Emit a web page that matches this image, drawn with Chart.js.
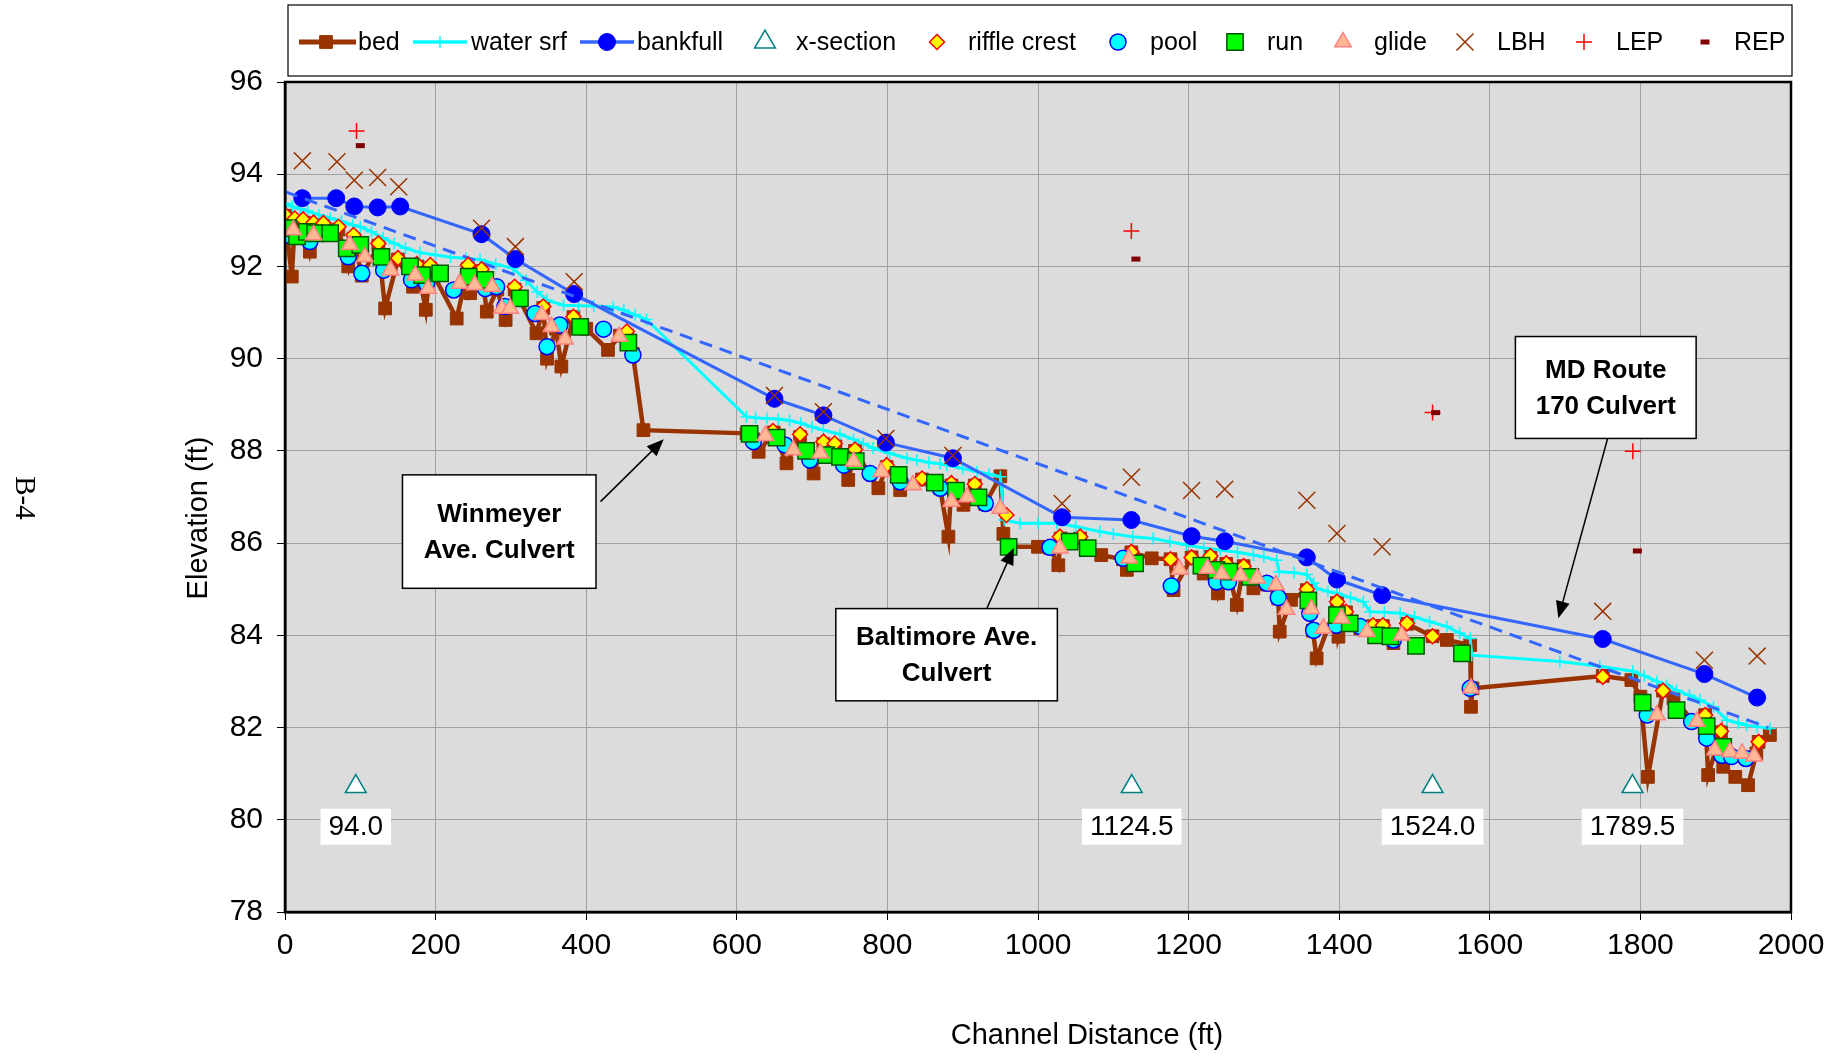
<!DOCTYPE html>
<html>
<head>
<meta charset="utf-8">
<script src="https://cdn.jsdelivr.net/npm/chart.js@4.4.0/dist/chart.umd.min.js"></script>
<style>
  html, body { margin: 0; padding: 0; background: #fff; }
  #wrap { width: 1838px; height: 1062px; }
</style>
</head>
<body>
<div id="wrap"><canvas id="profile" width="1838" height="1062"></canvas></div>
<script>
// survey points: [channel distance ft, elevation ft]
const bed = [
  [0, 93.1], [9, 91.78], [13, 92.95], [25, 92.95], [33, 92.32], [40, 92.85], [52, 92.9], [60, 92.7],
  [71, 92.8], [84, 92.0], [91, 92.6], [102, 91.8], [124, 92.45], [133, 91.09], [150, 92.15], [170, 91.56],
  [176, 92.0], [187, 91.06], [193, 91.95], [228, 90.87], [243, 91.95], [246, 91.42], [261, 91.9],
  [268, 91.02], [282, 91.5], [293, 90.84], [305, 91.5], [334, 90.55], [343, 91.1], [348, 90.0],
  [360, 90.65], [367, 89.83], [383, 90.9], [400, 90.65], [429, 90.19], [445, 90.5], [454, 90.5],
  [462, 90.1], [476, 88.45], [613, 88.38], [622, 88.25], [629, 87.98], [649, 88.4], [666, 87.73],
  [684, 88.3], [702, 87.51], [715, 88.15], [731, 88.1], [748, 87.37], [757, 88.0], [788, 87.19],
  [799, 87.65], [817, 87.15], [846, 87.38], [870, 87.2], [881, 86.14], [885, 87.25], [901, 86.83],
  [916, 87.25], [930, 86.85], [950, 87.45], [954, 86.2], [963, 85.92], [1000, 85.92], [1016, 85.9],
  [1027, 85.52], [1030, 86.1], [1056, 86.1], [1084, 85.74], [1113, 85.65], [1118, 85.42], [1124, 85.8],
  [1151, 85.67], [1176, 85.65], [1180, 84.98], [1204, 85.69], [1220, 85.34], [1229, 85.7], [1239, 84.91],
  [1250, 85.55], [1264, 84.66], [1273, 85.5], [1286, 85.02], [1304, 85.1], [1319, 84.8], [1321, 84.08],
  [1336, 84.77], [1357, 84.98], [1365, 84.1], [1370, 83.5], [1397, 84.7], [1399, 83.97], [1409, 84.5],
  [1428, 84.15], [1445, 84.2], [1458, 84.2], [1472, 83.83], [1490, 84.25], [1524, 83.98], [1543, 83.9],
  [1574, 83.79], [1575, 82.45], [1577, 82.85], [1750, 83.12], [1788, 83.03], [1800, 82.67],
  [1810, 80.93], [1830, 82.8], [1844, 82.63], [1870, 82.13], [1886, 82.27], [1890, 80.97],
  [1907, 81.9], [1910, 81.15], [1926, 80.93], [1943, 80.75], [1954, 81.44], [1957, 81.69], [1972, 81.84]
];
const waterSrf = [
  [0, 93.37], [10, 93.3], [20, 93.25], [30, 93.2], [45, 93.12], [60, 93.05], [75, 92.98], [90, 92.9],
  [100, 92.86], [115, 92.75], [130, 92.62], [145, 92.5], [160, 92.4], [179, 92.3], [200, 92.25],
  [220, 92.2], [240, 92.18], [259, 92.15], [280, 92.05], [303, 91.96], [320, 91.7], [335, 91.45],
  [348, 91.27], [370, 91.16], [390, 91.15], [410, 91.14], [436, 91.12], [450, 91.05], [465, 90.95],
  [480, 90.85], [613, 88.74], [625, 88.72], [640, 88.7], [655, 88.69], [670, 88.66], [685, 88.6],
  [700, 88.52], [715, 88.45], [737, 88.36], [755, 88.25], [768, 88.16], [781, 88.06], [803, 87.95],
  [826, 87.84], [839, 87.8], [855, 87.75], [870, 87.72], [879, 87.69], [900, 87.62], [919, 87.55],
  [935, 87.5], [950, 87.44], [955, 86.5], [976, 86.43], [1000, 86.43], [1025, 86.43], [1050, 86.36],
  [1082, 86.25], [1100, 86.2], [1126, 86.14], [1153, 86.1], [1175, 86.03], [1197, 85.96], [1220, 85.9],
  [1242, 85.85], [1265, 85.8], [1286, 85.74], [1300, 85.7], [1317, 85.63], [1320, 85.38], [1340, 85.36],
  [1357, 85.32], [1366, 85.13], [1370, 85.02], [1385, 84.95], [1397, 84.91], [1415, 84.82], [1432, 84.73],
  [1441, 84.51], [1460, 84.5], [1481, 84.48], [1500, 84.4], [1520, 84.3], [1543, 84.19], [1560, 84.05],
  [1574, 83.93], [1576, 83.57], [1693, 83.43], [1746, 83.33], [1790, 83.22], [1805, 83.12], [1822, 83.0],
  [1835, 82.92], [1848, 82.81], [1865, 82.7], [1879, 82.6], [1897, 82.45], [1915, 82.16], [1930, 82.1],
  [1941, 82.05], [1955, 82.02], [1972, 81.98]
];
const bankfull = [
  [23, 93.48], [68, 93.48], [92, 93.3], [123, 93.28], [153, 93.3], [261, 92.7], [306, 92.16], [384, 91.4],
  [650, 89.13], [715, 88.77], [798, 88.18], [887, 87.84], [1032, 86.56], [1124, 86.5], [1204, 86.15],
  [1248, 86.04], [1357, 85.69], [1397, 85.21], [1457, 84.87], [1750, 83.92], [1885, 83.16], [1955, 82.65]
];
const bankfullTrend = [[0, 93.62], [1970, 82.0]];
const xsection = [[94.0, 80.72], [1124.5, 80.72], [1524.0, 80.72], [1789.5, 80.72]];
const xsectionLabels = ['94.0', '1124.5', '1524.0', '1789.5'];
const riffleCrest = [
  [0, 93.12], [13, 93.04], [24, 93.02], [38, 92.95], [51, 92.94], [71, 92.86], [91, 92.68], [124, 92.5],
  [150, 92.18], [175, 92.05], [193, 92.03], [243, 92.03], [261, 91.94], [305, 91.56], [343, 91.13],
  [383, 90.91], [454, 90.59], [648, 88.43], [684, 88.36], [715, 88.2], [730, 88.16], [757, 88.03],
  [799, 87.69], [846, 87.4], [885, 87.3], [916, 87.28], [958, 86.61], [1029, 86.14], [1056, 86.14],
  [1124, 85.81], [1176, 85.65], [1204, 85.69], [1229, 85.72], [1250, 85.56], [1273, 85.5], [1357, 85.0],
  [1397, 84.73], [1409, 84.51], [1445, 84.22], [1458, 84.22], [1490, 84.26], [1524, 83.98], [1750, 83.1],
  [1830, 82.8], [1886, 82.27], [1907, 81.92], [1957, 81.69]
];
const pool = [
  [2, 92.68], [33, 92.54], [84, 92.21], [102, 91.85], [131, 91.92], [168, 91.71], [188, 91.63],
  [224, 91.49], [266, 91.52], [281, 91.56], [292, 91.13], [332, 90.98], [348, 90.26], [365, 90.73],
  [423, 90.64], [462, 90.08], [622, 88.2], [664, 88.13], [697, 87.8], [742, 87.69], [777, 87.51],
  [817, 87.33], [870, 87.19], [930, 86.86], [1016, 85.91], [1113, 85.67], [1177, 85.07], [1237, 85.16],
  [1253, 85.16], [1304, 85.13], [1319, 84.82], [1361, 84.48], [1366, 84.11], [1396, 84.22], [1428, 84.19],
  [1472, 83.9], [1574, 82.85], [1809, 82.27], [1868, 82.13], [1888, 81.77], [1908, 81.4], [1921, 81.37],
  [1940, 81.33]
];
const run = [
  [4, 92.83], [16, 92.65], [29, 92.75], [40, 92.72], [60, 92.72], [82, 92.39], [100, 92.47], [128, 92.21],
  [166, 92.0], [182, 91.81], [206, 91.85], [244, 91.78], [266, 91.71], [312, 91.31], [392, 90.69],
  [456, 90.35], [617, 88.37], [653, 88.29], [692, 88.0], [719, 87.91], [737, 87.87], [758, 87.78],
  [815, 87.48], [863, 87.31], [891, 87.14], [921, 86.99], [961, 85.92], [1042, 86.03], [1066, 85.89],
  [1129, 85.56], [1217, 85.51], [1237, 85.42], [1254, 85.38], [1282, 85.27], [1359, 84.76], [1397, 84.44],
  [1414, 84.26], [1449, 84.0], [1468, 83.98], [1502, 83.77], [1563, 83.61], [1803, 82.54], [1848, 82.38],
  [1888, 82.03], [1910, 81.58]
];
const glide = [
  [11, 92.79], [38, 92.68], [86, 92.47], [106, 92.21], [140, 91.92], [173, 91.81], [190, 91.52],
  [232, 91.63], [252, 91.6], [275, 91.56], [288, 91.09], [299, 91.09], [341, 90.95], [354, 90.69],
  [372, 90.42], [444, 90.48], [638, 88.33], [675, 88.02], [711, 87.95], [755, 87.77], [792, 87.55],
  [834, 87.26], [885, 86.9], [906, 87.0], [950, 86.75], [1029, 85.89], [1121, 85.67], [1188, 85.43],
  [1225, 85.45], [1244, 85.33], [1269, 85.29], [1291, 85.24], [1316, 85.09], [1330, 84.56], [1363, 84.57],
  [1379, 84.15], [1403, 84.37], [1437, 84.08], [1483, 84.0], [1575, 82.85], [1822, 82.27], [1875, 82.13],
  [1899, 81.51], [1919, 81.47], [1935, 81.44], [1951, 81.38]
];
const lbh = [
  [23, 94.29], [69, 94.27], [92, 93.87], [123, 93.93], [151, 93.73], [261, 92.83], [306, 92.43],
  [384, 91.67], [650, 89.2], [715, 88.85], [798, 88.27], [887, 87.9], [1032, 86.86], [1124, 87.43],
  [1204, 87.14], [1248, 87.17], [1357, 86.93], [1397, 86.21], [1457, 85.92], [1750, 84.52],
  [1885, 83.46], [1955, 83.55]
];
const lep = [[95, 94.94], [1124, 92.77], [1524, 88.83], [1790, 87.99]];
const rep = [[100, 94.62], [1130, 92.16], [1528, 88.83], [1796, 85.83]];

const xTicks = { min: 0, max: 2000, step: 200 };
const yTicks = { min: 78, max: 96, step: 2 };

// culvert call-outs (box corners and arrow tail->tip, in chart units)
const notes = [
  { lines: ['Winmeyer', 'Ave. Culvert'], box: [156, 87.48, 413, 85.02], arrow: [419, 86.9, 503, 88.25] },
  { lines: ['Baltimore Ave.', 'Culvert'], box: [731.5, 84.58, 1025.7, 82.58], arrow: [923, 84.25, 968, 85.9] },
  { lines: ['MD Route', '170 Culvert'], box: [1634, 90.48, 1874, 88.27], arrow: [1757, 88.3, 1691, 84.37] }
];
const xsecLabelElev = 79.85;

const FONT = "'Liberation Sans', Arial, Helvetica, sans-serif";
const pts = arr => arr.map(([x, y]) => ({ x, y }));

const datasets = [
  { label: 'bed', data: pts(bed), showLine: true, borderColor: '#993300', borderWidth: 4.5,
    pointStyle: 'rect', pointRadius: 9, pointBackgroundColor: '#993300', pointBorderColor: '#993300', pointBorderWidth: 1 },
  { label: 'water srf', data: pts(waterSrf), showLine: true, borderColor: '#00ffff', borderWidth: 3,
    pointStyle: 'cross', pointRadius: 6, pointBackgroundColor: '#00ffff', pointBorderColor: '#00ffff', pointBorderWidth: 1.5 },
  { label: 'bankfull', data: pts(bankfull), showLine: true, borderColor: '#3366ff', borderWidth: 3,
    pointStyle: 'circle', pointRadius: 8.5, pointBackgroundColor: '#0000ff', pointBorderColor: '#0000ff', pointBorderWidth: 1 },
  { label: 'trend', data: pts(bankfullTrend), showLine: true, borderColor: '#3366ff', borderWidth: 3,
    borderDash: [13, 8], pointRadius: 0 },
  { label: 'x-section', data: pts(xsection), pointStyle: 'triangle', pointRadius: 12,
    pointBackgroundColor: '#ffffff', pointBorderColor: '#008080', pointBorderWidth: 1.5 },
  { label: 'riffle crest', data: pts(riffleCrest), pointStyle: 'rectRot', pointRadius: 7.5,
    pointBackgroundColor: '#ffff00', pointBorderColor: '#ff0000', pointBorderWidth: 1.5 },
  { label: 'pool', data: pts(pool), pointStyle: 'circle', pointRadius: 8,
    pointBackgroundColor: '#00ffff', pointBorderColor: '#0000ff', pointBorderWidth: 1.5 },
  { label: 'run', data: pts(run), pointStyle: 'rect', pointRadius: 11.5,
    pointBackgroundColor: '#00ff00', pointBorderColor: '#005500', pointBorderWidth: 1.5 },
  { label: 'glide', data: pts(glide), pointStyle: 'triangle', pointRadius: 9.5,
    pointBackgroundColor: '#ffb894', pointBorderColor: '#ff8080', pointBorderWidth: 1.5 },
  { label: 'LBH', data: pts(lbh), pointStyle: 'crossRot', pointRadius: 12,
    pointBackgroundColor: '#993300', pointBorderColor: '#993300', pointBorderWidth: 1.5 },
  { label: 'LEP', data: pts(lep), pointStyle: 'cross', pointRadius: 8,
    pointBackgroundColor: '#ff0000', pointBorderColor: '#ff0000', pointBorderWidth: 1.5 },
  { label: 'REP', data: pts(rep), pointStyle: 'line', pointRadius: 4.5,
    pointBackgroundColor: '#800000', pointBorderColor: '#800000', pointBorderWidth: 5 }
];
// later series sit on top, like the spreadsheet
datasets.forEach((d, i) => { d.order = datasets.length - i; });

// legend slots: marker x, text x, optional line sample
const legendSlots = [
  { label: 'bed', marker: 326, text: 358, line: [299, 356] },
  { label: 'water srf', marker: 440, text: 471, line: [413, 467] },
  { label: 'bankfull', marker: 607, text: 637, line: [580, 634] },
  { label: 'x-section', marker: 765, text: 796 },
  { label: 'riffle crest', marker: 937, text: 968 },
  { label: 'pool', marker: 1118, text: 1150 },
  { label: 'run', marker: 1235, text: 1267 },
  { label: 'glide', marker: 1343, text: 1374 },
  { label: 'LBH', marker: 1465, text: 1497 },
  { label: 'LEP', marker: 1584, text: 1616 },
  { label: 'REP', marker: 1705, text: 1734 }
];

function marker(ctx, ds, x, y) {
  ctx.save();
  ctx.fillStyle = ds.pointBackgroundColor;
  ctx.strokeStyle = ds.pointBorderColor;
  ctx.lineWidth = ds.pointBorderWidth;
  Chart.helpers.drawPoint(ctx, {
    pointStyle: ds.pointStyle, radius: ds.pointRadius, borderWidth: ds.pointBorderWidth, rotation: 0
  }, x, y);
  ctx.restore();
}

function arrow(ctx, x1, y1, x2, y2) {
  const ang = Math.atan2(y2 - y1, x2 - x1);
  const len = 17, half = 7;
  ctx.beginPath();
  ctx.moveTo(x1, y1);
  ctx.lineTo(x2 - Math.cos(ang) * len * 0.8, y2 - Math.sin(ang) * len * 0.8);
  ctx.stroke();
  ctx.beginPath();
  ctx.moveTo(x2, y2);
  ctx.lineTo(x2 - Math.cos(ang) * len + Math.sin(ang) * half, y2 - Math.sin(ang) * len - Math.cos(ang) * half);
  ctx.lineTo(x2 - Math.cos(ang) * len - Math.sin(ang) * half, y2 - Math.sin(ang) * len + Math.cos(ang) * half);
  ctx.closePath();
  ctx.fill();
}

const decor = {
  id: 'decor',
  beforeDraw(chart) {
    const { ctx, chartArea: a } = chart;
    ctx.save();
    ctx.fillStyle = '#ffffff';
    ctx.fillRect(0, 0, chart.width, chart.height);
    ctx.fillStyle = '#dcdcdc';
    ctx.fillRect(a.left, a.top, a.right - a.left, a.bottom - a.top);
    ctx.restore();
  },
  afterDatasetsDraw(chart) {
    const { ctx, chartArea: a, scales: { x, y } } = chart;
    ctx.save();
    ctx.strokeStyle = '#000';
    ctx.lineWidth = 2.5;
    ctx.strokeRect(a.left, a.top, a.right - a.left, a.bottom - a.top);

    // x-section station labels
    ctx.font = `28px ${FONT}`;
    ctx.textAlign = 'center';
    ctx.textBaseline = 'middle';
    xsectionLabels.forEach((t, i) => {
      const px = x.getPixelForValue(xsection[i][0]);
      const py = y.getPixelForValue(xsecLabelElev);
      const w = ctx.measureText(t).width + 16;
      ctx.fillStyle = '#ffffff';
      ctx.fillRect(px - w / 2, py - 18, w, 36);
      ctx.fillStyle = '#000';
      ctx.fillText(t, px, py + 1);
    });

    // culvert call-outs
    notes.forEach(n => {
      const [x1, y1, x2, y2] = n.box;
      const l = x.getPixelForValue(x1), t = y.getPixelForValue(y1);
      const r = x.getPixelForValue(x2), b = y.getPixelForValue(y2);
      ctx.strokeStyle = '#000';
      ctx.fillStyle = '#000';
      ctx.lineWidth = 1.5;
      const [ax1, ay1, ax2, ay2] = n.arrow;
      arrow(ctx, x.getPixelForValue(ax1), y.getPixelForValue(ay1), x.getPixelForValue(ax2), y.getPixelForValue(ay2));
      ctx.fillStyle = '#ffffff';
      ctx.fillRect(l, t, r - l, b - t);
      ctx.strokeRect(l, t, r - l, b - t);
      ctx.fillStyle = '#000';
      ctx.font = `bold 26px ${FONT}`;
      const cx = (l + r) / 2, cy = (t + b) / 2;
      ctx.fillText(n.lines[0], cx, cy - 17);
      ctx.fillText(n.lines[1], cx, cy + 19);
    });
    ctx.restore();
  },
  afterDraw(chart) {
    const { ctx } = chart;
    ctx.save();
    // legend frame
    ctx.fillStyle = '#ffffff';
    ctx.fillRect(288, 5, 1504, 71);
    ctx.strokeStyle = '#000';
    ctx.lineWidth = 1.2;
    ctx.strokeRect(288, 5, 1504, 71);
    const ly = 42;
    ctx.font = `25px ${FONT}`;
    ctx.textAlign = 'left';
    ctx.textBaseline = 'middle';
    legendSlots.forEach(s => {
      const ds = chart.data.datasets.find(d => d.label === s.label);
      if (s.line) {
        ctx.strokeStyle = ds.borderColor;
        ctx.lineWidth = ds.borderWidth + 0.5;
        ctx.beginPath();
        ctx.moveTo(s.line[0], ly);
        ctx.lineTo(s.line[1], ly);
        ctx.stroke();
      }
      marker(ctx, ds, s.marker, ly);
      ctx.fillStyle = '#000';
      ctx.fillText(s.label, s.text, ly + 1);
    });

    // axis titles and page tag
    ctx.font = `29px ${FONT}`;
    ctx.textAlign = 'center';
    ctx.fillText('Channel Distance (ft)', 1087, 1036);
    ctx.save();
    ctx.translate(199, 518);
    ctx.rotate(-Math.PI / 2);
    ctx.fillText('Elevation (ft)', 0, 0);
    ctx.restore();
    ctx.save();
    ctx.translate(24, 498);
    ctx.rotate(Math.PI / 2);
    ctx.font = `29px 'Liberation Serif', 'Times New Roman', serif`;
    ctx.fillText('B-4', 0, 0);
    ctx.restore();
    ctx.restore();
  }
};

const tickFont = { family: FONT, size: 30 };

new Chart(document.getElementById('profile'), {
  type: 'scatter',
  data: { datasets },
  options: {
    responsive: false,
    animation: false,
    devicePixelRatio: 1,
    layout: { padding: { top: 82, right: 47, bottom: 0, left: 0 } },
    plugins: { legend: { display: false }, tooltip: { enabled: false } },
    scales: {
      x: {
        type: 'linear', min: xTicks.min, max: xTicks.max,
        ticks: { stepSize: xTicks.step, font: tickFont, color: '#000', padding: 8, callback: v => String(v) },
        grid: { color: '#a0a0a0', lineWidth: 1, tickColor: '#000', tickLength: 8 },
        border: { display: true, color: '#000', width: 2.5 },
        afterFit(s) { s.height = 150; }
      },
      y: {
        type: 'linear', min: yTicks.min, max: yTicks.max,
        ticks: { stepSize: yTicks.step, font: tickFont, color: '#000', padding: 14, callback: v => String(v) },
        grid: { color: '#a0a0a0', lineWidth: 1, tickColor: '#000', tickLength: 8 },
        border: { display: true, color: '#000', width: 2.5 },
        afterFit(s) { s.width = 285; }
      }
    }
  },
  plugins: [decor]
});
</script>
</body>
</html>
